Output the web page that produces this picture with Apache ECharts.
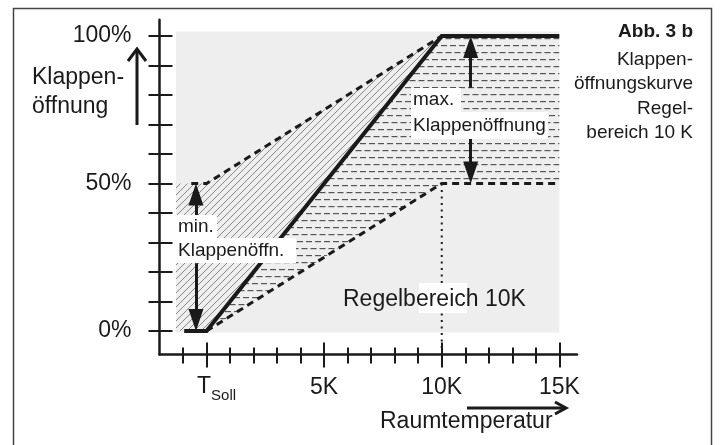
<!DOCTYPE html>
<html>
<head>
<meta charset="utf-8">
<script src="https://cdn.jsdelivr.net/npm/echarts@6/dist/echarts.min.js"></script>
<style>
  html, body { margin: 0; padding: 0; background: #fff; }
  #chart { width: 722px; height: 445px; }
</style>
</head>
<body>
<div id="chart"></div>
<script>
  // Achsen
  const xMinorTicks = [-1, 0, 1, 2, 3, 4, 5, 6, 7, 8, 9, 10, 11, 12, 13, 14, 15];
  const xMajorTicks = [0, 5, 10, 15];
  const xTickLabels = ['T', '5K', '10K', '15K'];
  const yTicks = [0, 10, 20, 30, 40, 50, 60, 70, 80, 90, 100];
  const yLabelValues = [0, 50, 100];
  const yTickLabels = ['0%', '50%', '100%'];

  // Kurven (x in K, y in %)
  const setpointCurve = [[-0.95, 0], [0, 0], [10, 100], [15, 100]];
  const upperLimit = [[-0.65, 50], [0, 50], [10, 100]];
  const lowerLimit = [[0, 0], [10, 50], [15, 50]];
  const rangeMarker = [[10, 50], [10, -6.5]];

  // Flaechen
  const controlArea = [[-1.3, -0.5], [15, -0.5], [15, 101.5], [-1.3, 101.5]];
  const minBand = [[-1.3, 0], [0, 0], [10, 100], [0, 50], [-1.3, 50]];
  const maxBand = [[0, 0], [10, 50], [15, 50], [15, 100], [10, 100]];

  // Pfeile (Spitze liegt eine halbe Dreieckshoehe hinter dem Endpunkt)
  const minArrowX = -0.45;
  const maxArrowX = 11.23;
  const minArrows = [[39, 46.3], [23, 3.7]];
  const maxArrows = [[82.5, 96.3], [65.5, 53.7]];

  const font = '"Liberation Sans", Arial, sans-serif';
  const ink = '#1a1a1a';

  function makePattern(w, h, draw) {
    let c = document.createElement('canvas');
    c.width = w;
    c.height = h;
    draw(c.getContext('2d'));
    return { image: c, repeat: 'repeat' };
  }

  const diagHatch = makePattern(7, 7, ctx => {
    ctx.strokeStyle = '#666';
    ctx.lineWidth = 0.75;
    ctx.beginPath();
    ctx.moveTo(-1, 8); ctx.lineTo(8, -1);
    ctx.moveTo(-1, 1); ctx.lineTo(1, -1);
    ctx.moveTo(6, 8); ctx.lineTo(8, 6);
    ctx.stroke();
  });

  const dashHatch = makePattern(9, 14, ctx => {
    ctx.fillStyle = '#555';
    ctx.fillRect(0, 3, 6, 1.2);
    ctx.fillRect(4.5, 10, 4.5, 1.2);
    ctx.fillRect(0, 10, 1.5, 1.2);
  });

  function polygonSeries(points, fill, z) {
    return {
      type: 'custom',
      coordinateSystem: 'cartesian2d',
      silent: true,
      z: z,
      data: [[0, 0]],
      renderItem: function (params, api) {
        return {
          type: 'polygon',
          shape: { points: points.map(p => api.coord(p)) },
          style: { fill: fill, stroke: null }
        };
      }
    };
  }

  function arrowLines(x, pairs) {
    return pairs.map(p => [{ coord: [x, p[0]] }, { coord: [x, p[1]] }]);
  }

  function xAxisDef(ticks, len, inside, withLine, withLabel) {
    return {
      type: 'value',
      min: -2,
      max: 15.75,
      position: 'bottom',
      splitLine: { show: false },
      axisLine: { show: withLine, onZero: false, lineStyle: { color: ink, width: 2.5 } },
      axisTick: { show: true, inside: inside, length: len, customValues: ticks, lineStyle: { color: ink, width: 2 } },
      axisLabel: {
        show: withLabel,
        customValues: xMajorTicks,
        margin: 21,
        fontFamily: font,
        fontSize: 23,
        lineHeight: 24,
        color: ink,
        formatter: function (v) {
          let label = xTickLabels[xMajorTicks.indexOf(v)];
          return v === 0 ? '{t|' + label + '}{s|Soll}' : label;
        },
        rich: {
          t: { fontFamily: font, fontSize: 23, lineHeight: 24, color: ink, verticalAlign: 'top', padding: [0, 0, 0, 20] },
          s: { fontFamily: font, fontSize: 15, lineHeight: 15, color: ink, verticalAlign: 'top', padding: [13, 0, 0, 0] }
        }
      }
    };
  }

  function yAxisDef(len, inside, withLine, withLabel) {
    return {
      type: 'value',
      min: -8,
      max: 105.5,
      position: 'left',
      splitLine: { show: false },
      axisLine: { show: withLine, onZero: false, lineStyle: { color: ink, width: 2.5 } },
      axisTick: { show: true, inside: inside, length: len, customValues: yTicks, lineStyle: { color: ink, width: 2 } },
      axisLabel: {
        show: withLabel,
        customValues: yLabelValues,
        margin: 28,
        fontFamily: font,
        fontSize: 23,
        color: ink,
        formatter: v => yTickLabels[yLabelValues.indexOf(v)]
      }
    };
  }

  let option = {
    backgroundColor: '#fff',
    animation: false,
    grid: { left: 159.5, right: 145, top: 19.8, bottom: 90.4, containLabel: false },
    xAxis: [
      xAxisDef(xMinorTicks, 9, false, true, true),
      xAxisDef(xMinorTicks, 7, true, false, false),
      xAxisDef(xMajorTicks, 13, false, false, false),
      xAxisDef(xMajorTicks, 12, true, false, false)
    ],
    yAxis: [
      yAxisDef(11, false, true, true),
      yAxisDef(13, true, false, false)
    ],
    series: [
      polygonSeries(controlArea, '#eeeeee', 0),
      polygonSeries(minBand, diagHatch, 1),
      polygonSeries(maxBand, dashHatch, 1),
      {
        type: 'line',
        data: rangeMarker,
        symbol: 'none',
        z: 3,
        lineStyle: { color: ink, width: 2, type: [2, 4.5] }
      },
      {
        type: 'line',
        data: upperLimit,
        symbol: 'none',
        z: 4,
        lineStyle: { color: ink, width: 3, type: [7, 5] }
      },
      {
        type: 'line',
        data: lowerLimit,
        symbol: 'none',
        z: 4,
        lineStyle: { color: ink, width: 3, type: [7, 5] }
      },
      {
        type: 'line',
        data: setpointCurve,
        symbol: 'none',
        z: 5,
        lineStyle: { color: ink, width: 4, join: 'miter' },
        markLine: {
          silent: true,
          symbol: ['none', 'triangle'],
          symbolSize: [15, 22],
          label: { show: false },
          lineStyle: { color: ink, width: 3, type: 'solid' },
          data: arrowLines(minArrowX, minArrows).concat(arrowLines(maxArrowX, maxArrows))
        }
      }
    ],
    graphic: [
      // Rahmen
      { type: 'polyline', z: 20, shape: { points: [[13.5, 445], [13.5, 8.5], [711.5, 8.5], [711.5, 445]] }, style: { stroke: '#444', lineWidth: 1.5, fill: null } },
      // Achsentitel Y
      { type: 'text', z: 20, left: 32, top: 63, style: { text: 'Klappen-\nöffnung', font: '23px ' + font, lineHeight: 29, fill: ink } },
      { type: 'polyline', z: 20, shape: { points: [[137, 125], [137, 50]] }, style: { stroke: ink, lineWidth: 3, fill: null } },
      { type: 'polyline', z: 20, shape: { points: [[128, 61], [137, 49], [146, 61]] }, style: { stroke: ink, lineWidth: 3, fill: null } },
      // Achsentitel X
      { type: 'text', z: 20, x: 380, y: 422, style: { text: 'Raumtemperatur', font: '23px ' + font, fill: ink, verticalAlign: 'middle' } },
      { type: 'polyline', z: 20, shape: { points: [[467, 408], [564, 408]] }, style: { stroke: ink, lineWidth: 3, fill: null } },
      { type: 'polyline', z: 20, shape: { points: [[555, 402], [566, 408], [555, 414]] }, style: { stroke: ink, lineWidth: 3, fill: null } },
      // Bildunterschrift
      { type: 'text', z: 20, x: 693, y: 32, style: { text: 'Abb. 3 b', font: 'bold 19px ' + font, fill: ink, align: 'right', verticalAlign: 'middle' } },
      { type: 'text', z: 20, x: 693, y: 47.5, style: { text: 'Klappen-\nöffnungskurve\nRegel-\nbereich 10 K', font: '19px ' + font, lineHeight: 24.5, fill: ink, align: 'right' } },
      // min. Klappenoeffnung
      { type: 'rect', z: 20, shape: { x: 175, y: 215, width: 42, height: 23 }, style: { fill: '#fff' } },
      { type: 'rect', z: 20, shape: { x: 175, y: 238, width: 121, height: 25 }, style: { fill: '#fff' } },
      { type: 'text', z: 21, x: 178, y: 226.5, style: { text: 'min.', font: '19px ' + font, fill: ink, verticalAlign: 'middle' } },
      { type: 'text', z: 21, x: 178, y: 250.5, style: { text: 'Klappenöffn.', font: '19px ' + font, fill: ink, verticalAlign: 'middle' } },
      // max. Klappenoeffnung
      { type: 'rect', z: 20, shape: { x: 411, y: 88, width: 50, height: 24 }, style: { fill: '#fff' } },
      { type: 'rect', z: 20, shape: { x: 411, y: 112, width: 137, height: 27 }, style: { fill: '#fff' } },
      { type: 'text', z: 21, x: 413, y: 100, style: { text: 'max.', font: '19px ' + font, fill: ink, verticalAlign: 'middle' } },
      { type: 'text', z: 21, x: 413, y: 125.5, style: { text: 'Klappenöffnung', font: '19px ' + font, fill: ink, verticalAlign: 'middle' } },
      // Regelbereich
      { type: 'rect', z: 20, shape: { x: 419, y: 283, width: 48, height: 30 }, style: { fill: '#fff' } },
      { type: 'text', z: 21, x: 343, y: 300, style: { text: 'Regelbereich 10K', font: '23px ' + font, fill: ink, verticalAlign: 'middle' } }
    ]
  };

  let chartDom = echarts.init(document.getElementById('chart'));
  chartDom.setOption(option);
  window.addEventListener('resize', function () {
    chartDom.resize();
  }, false);
</script>
</body>
</html>
